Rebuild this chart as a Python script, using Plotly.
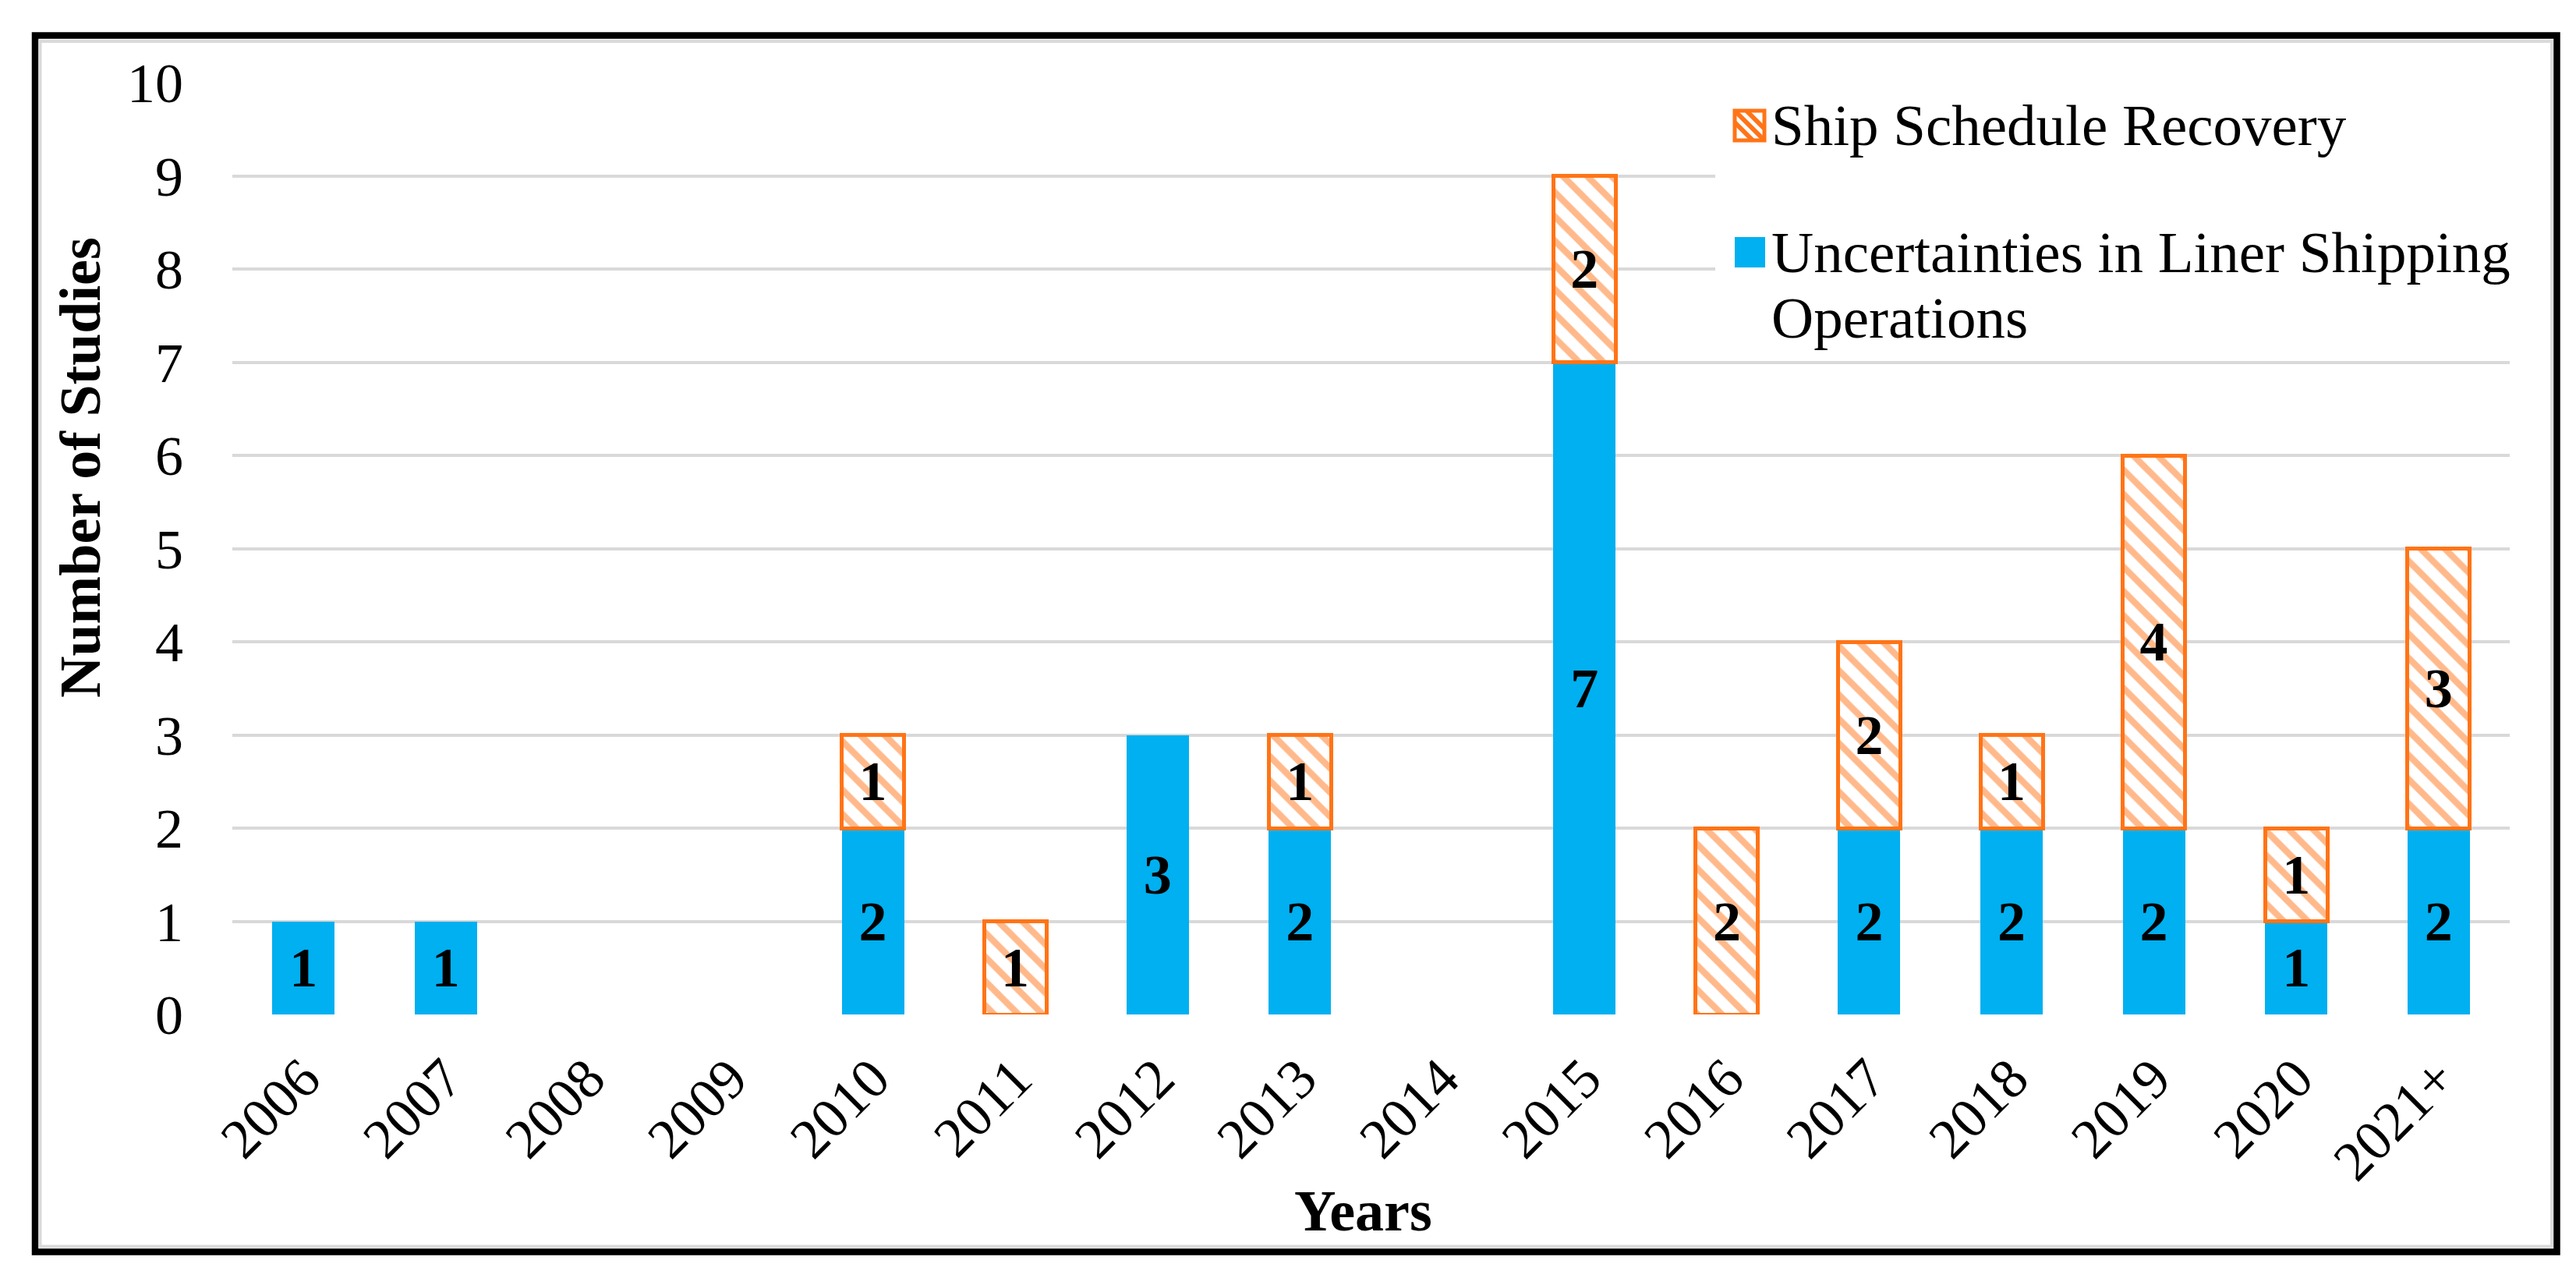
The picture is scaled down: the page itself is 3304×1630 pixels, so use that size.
import plotly.graph_objects as go

years = ["2006", "2007", "2008", "2009", "2010", "2011", "2012", "2013",
         "2014", "2015", "2016", "2017", "2018", "2019", "2020", "2021+"]
uncertainties = [1, 1, 0, 0, 2, 0, 3, 2, 0, 7, 0, 2, 2, 2, 1, 2]
recovery = [0, 0, 0, 0, 1, 1, 0, 1, 0, 2, 2, 2, 1, 4, 1, 3]
y_ticks = list(range(0, 11))
series_names = ["Uncertainties in Liner Shipping Operations", "Ship Schedule Recovery"]

BLUE = "#00B0F0"
ORANGE = "#FF7417"
GRID = "#D9D9D9"
FONT = "Liberation Serif"

W, H = 3304, 1630
L, R, T, B = 290, 3211, 98, 1293
PW, PH = R - L, B - T


def px(x):
    return (x - L) / PW


def py(y):
    return (B - y) / PH


def nz(v):
    return [x if x else None for x in v]


def lab(v):
    return [str(x) if x else "" for x in v]


fig = go.Figure()
fig.add_trace(go.Bar(
    x=years, y=nz(uncertainties), name=series_names[0],
    marker=dict(color=BLUE, line=dict(width=0)),
    text=lab(uncertainties), textposition="inside", insidetextanchor="middle",
    textangle=0, constraintext="none",
    textfont=dict(family=FONT, size=72, color="black", weight="bold"),
    showlegend=False,
))
fig.add_trace(go.Bar(
    x=years, y=nz(recovery), name=series_names[1],
    marker=dict(color="white", line=dict(color=ORANGE, width=5),
                pattern=dict(shape="\\", fgcolor=ORANGE, bgcolor="white",
                             size=22, solidity=0.38, fillmode="overlay")),
    text=lab(recovery), textposition="inside", insidetextanchor="middle",
    textangle=0, constraintext="none",
    textfont=dict(family=FONT, size=72, color="black", weight="bold"),
    showlegend=False,
))

shapes = []
# outer frame
shapes.append(dict(type="rect", xref="paper", yref="paper",
                   x0=px(37), x1=px(3271.5), y0=py(37.5), y1=py(1597.5),
                   line=dict(color="black", width=8.5), layer="above"))
shapes.append(dict(type="rect", xref="paper", yref="paper",
                   x0=px(43.5), x1=px(3265), y0=py(45), y1=py(1590.5),
                   line=dict(color="#DADADA", width=4), layer="above"))
# legend background
shapes.append(dict(type="rect", xref="paper", yref="paper",
                   x0=px(2192), x1=px(3215), y0=py(102), y1=py(445),
                   line=dict(width=0), fillcolor="white", layer="above"))
# legend symbol: hatched
sx0, sx1, sy0, sy1 = 2217, 2255, 134, 172
shapes.append(dict(type="rect", xref="paper", yref="paper",
                   x0=px(sx0), x1=px(sx1), y0=py(sy0), y1=py(sy1),
                   line=dict(color=ORANGE, width=5), fillcolor="white", layer="above"))
for off in (-15, 0, 15):
    xa, ya = sx0 + max(off, 0), sy0 + max(-off, 0)
    xb, yb = sx1 - max(-off, 0), sy1 - max(off, 0)
    shapes.append(dict(type="line", xref="paper", yref="paper",
                       x0=px(xa), y0=py(ya), x1=px(xb), y1=py(yb),
                       line=dict(color=ORANGE, width=6), layer="above"))
# legend symbol: solid
shapes.append(dict(type="rect", xref="paper", yref="paper",
                   x0=px(2217), x1=px(2256), y0=py(296), y1=py(335),
                   line=dict(width=0), fillcolor=BLUE, layer="above"))

ann = []
def text(t, x, y, size=75, bold=False, angle=0, xanchor="left"):
    ann.append(dict(text=f"<b>{t}</b>" if bold else t, xref="paper", yref="paper",
                    x=px(x), y=py(y), xanchor=xanchor, yanchor="middle",
                    showarrow=False, textangle=angle,
                    font=dict(family=FONT, size=size, color="black")))

text(series_names[1], 2262, 153)
text("Uncertainties in Liner Shipping", 2262, 315)
text("Operations", 2262, 399)
text("Number of Studies", 95, 592, size=74, bold=True, angle=-90, xanchor="center")
text("Years", 1740, 1545, size=74, bold=True, xanchor="center")

fig.update_layout(
    width=W, height=H,
    margin=dict(l=L, r=W - R, t=T, b=H - B, autoexpand=False),
    paper_bgcolor="white", plot_bgcolor="white",
    barmode="stack", bargap=0.562,
    font=dict(family=FONT, size=72, color="black"),
    shapes=shapes, annotations=ann, showlegend=False,
    xaxis=dict(type="category", categoryorder="array", categoryarray=years,
               tickangle=-45, tickfont=dict(size=72), showgrid=False,
               showline=False, ticks="", ticklabelstandoff=24, zeroline=False),
    yaxis=dict(range=[0, 10], tickvals=y_ticks, tickfont=dict(size=72),
               showgrid=True, gridcolor=GRID, gridwidth=4, zeroline=False,
               showline=False, ticks="", ticklabelstandoff=62),
)

fig.write_html("out.html")
